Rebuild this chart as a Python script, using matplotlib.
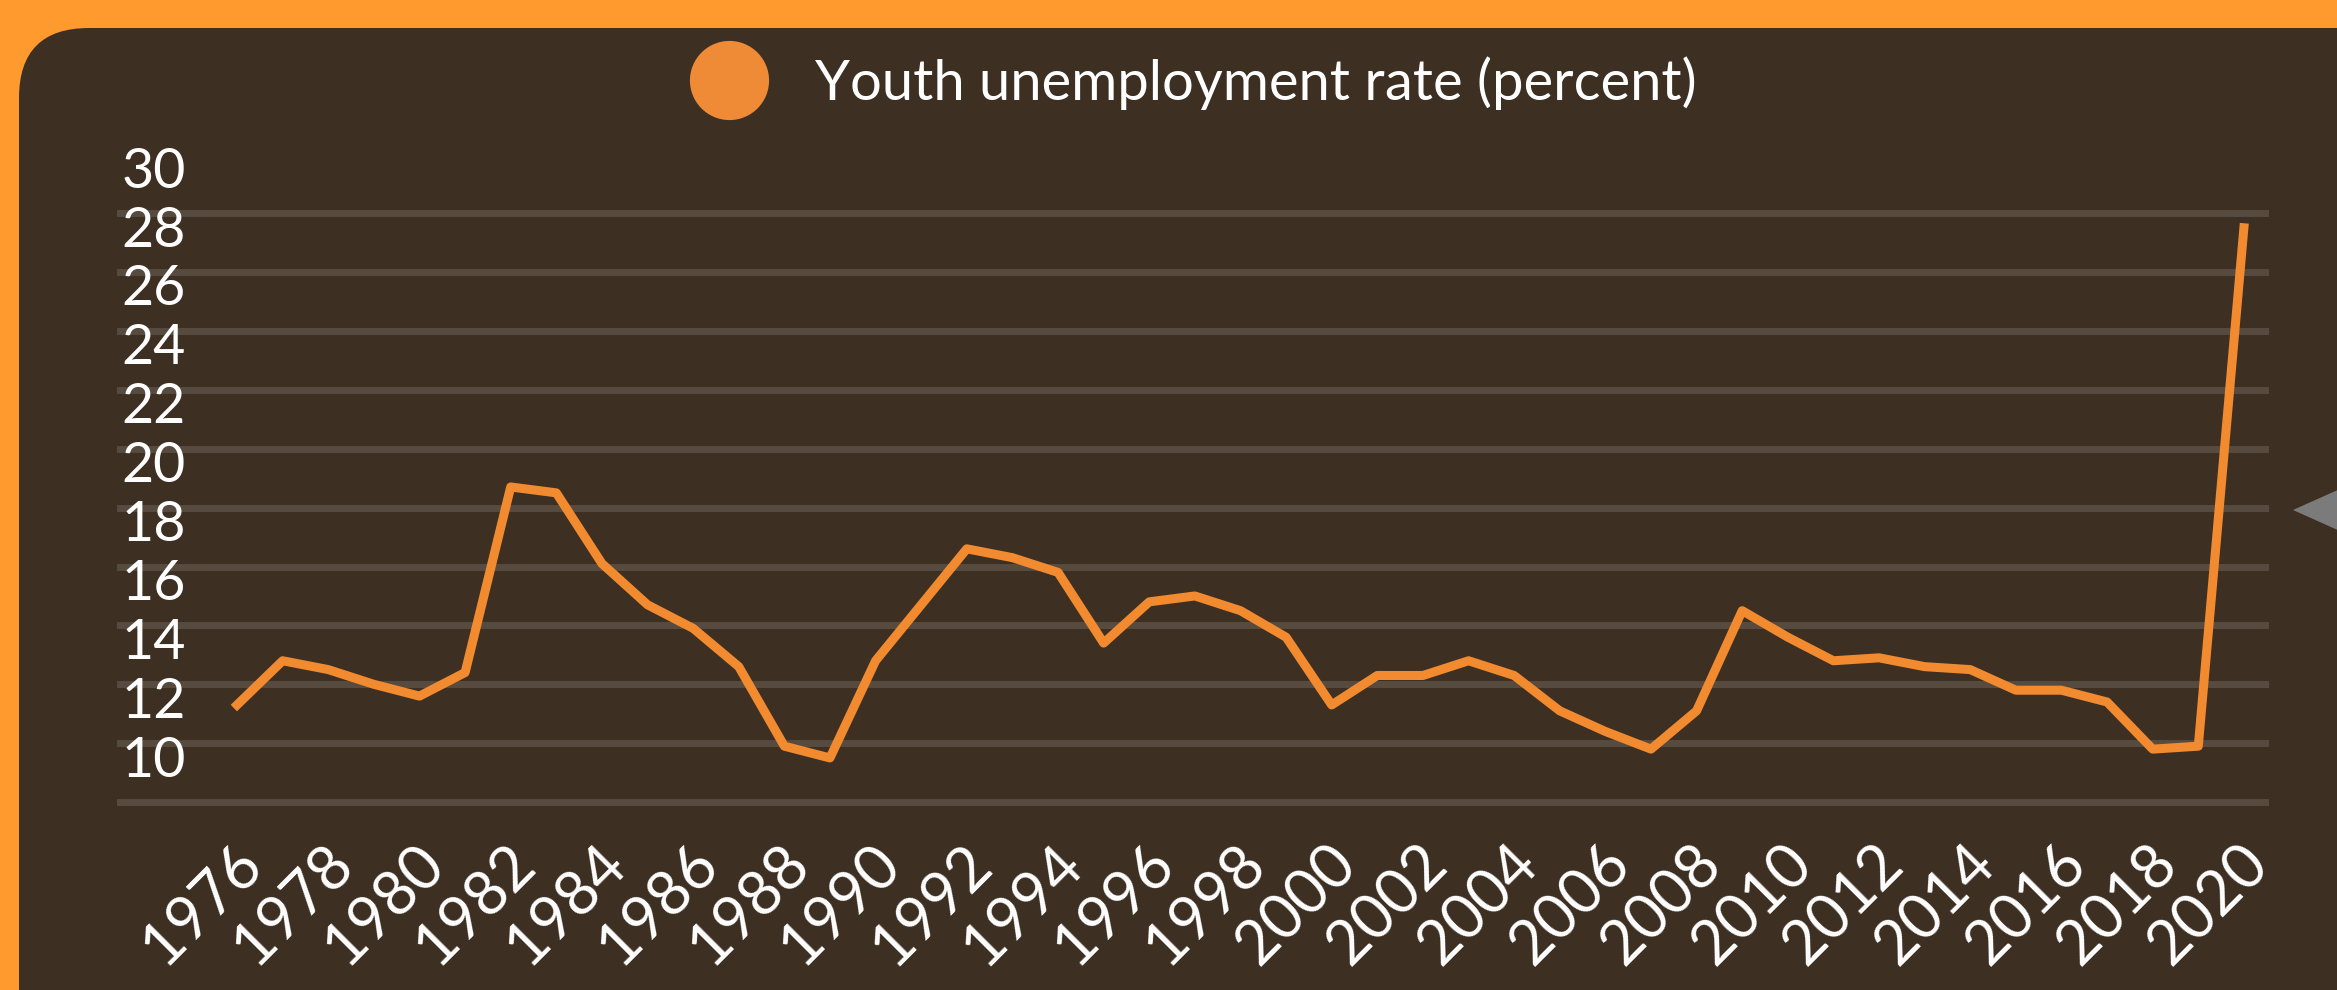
import matplotlib
matplotlib.use("Agg")
import matplotlib.pyplot as plt
import matplotlib.patches as mpatches
import matplotlib.transforms as mtransforms
from matplotlib.lines import Line2D

# Youth unemployment rate, yearly
years = list(range(1976, 2021))
rate = [11.3, 12.8, 12.5, 12.0, 11.6, 12.4, 18.7, 18.5, 16.1, 14.7,
        13.9, 12.6, 9.9, 9.5, 12.8, 14.7, 16.6, 16.3, 15.8, 13.4,
        14.8, 15.0, 14.5, 13.6, 11.3, 12.3, 12.3, 12.8, 12.3, 11.1,
        10.4, 9.8, 11.1, 14.5, 13.6, 12.8, 12.9, 12.6, 12.5, 11.8,
        11.8, 11.4, 9.8, 9.9, 27.5]
series_label = "Youth unemployment rate (percent)"
x_ticks = list(range(1976, 2021, 2))
y_ticks = list(range(10, 31, 2))
grid_values = list(range(8, 29, 2))

frame_color = "#FE9A2E"
panel_color = "#3D2F22"
line_color = "#F28A30"
grid_color = "#574B40"

plt.rcParams['font.family'] = ['Lato', 'DejaVu Sans']

fig = plt.figure(figsize=(23.37, 9.9), dpi=100)
fig.patch.set_facecolor(frame_color)

# dark rounded panel
panel = mpatches.FancyBboxPatch((0.19, -1.0), 25.0, 10.62,
                                boxstyle="round,pad=0,rounding_size=0.7",
                                transform=fig.dpi_scale_trans,
                                facecolor=panel_color, edgecolor="none", zorder=-2)
fig.add_artist(panel)

# small grey arrow on the right edge
arrow = mpatches.Polygon([(22.93, 4.80), (23.6, 5.10), (23.6, 4.50)],
                         closed=True, transform=fig.dpi_scale_trans,
                         facecolor="#7B7B7B", edgecolor="none", zorder=-1)
fig.add_artist(arrow)

ax = fig.add_axes([0.0501, 0.1838, 0.9208, 0.6754])
ax.set_facecolor("none")
ax.plot(years, rate, color=line_color, linewidth=6.5, zorder=3)

ax.set_xlim(1973.37, 2020.55)
ax.set_ylim(7.8, 30.5)

# grid lines 8..28 on major ticks, labels 10..30 on minor ticks
# (the labels sit a bit below their lines, as in the original)
ax.yaxis.remove_overlapping_locs = False
ax.set_yticks(grid_values)
ax.set_yticks(y_ticks, labels=[str(v) for v in y_ticks], minor=True)
ax.yaxis.grid(True, which="major", color=grid_color, linewidth=5)
ax.tick_params(axis="y", which="major", length=0, labelleft=False)
ax.tick_params(axis="y", which="minor", length=0, pad=-3, labelsize=40,
               labelcolor="white")
shift = mtransforms.ScaledTranslation(0, -0.13, fig.dpi_scale_trans)
for lab in ax.get_yticklabels(minor=True):
    lab.set_horizontalalignment("left")
    lab.set_transform(lab.get_transform() + shift)

ax.set_xticks(x_ticks)
ax.set_xticklabels([str(y) for y in x_ticks], rotation=45, ha="right",
                   va="center", rotation_mode="anchor")
ax.tick_params(axis="x", length=0, pad=34, labelsize=44, labelcolor="white")
xshift = mtransforms.ScaledTranslation(0.15, 0, fig.dpi_scale_trans)
for lab in ax.get_xticklabels():
    lab.set_transform(lab.get_transform() + xshift)

for s in ax.spines.values():
    s.set_visible(False)

handle = Line2D([], [], marker="o", linestyle="none", markersize=57,
                markerfacecolor="#EF8A37", markeredgecolor="none")
leg = ax.legend([handle], [series_label], loc="center",
                bbox_to_anchor=(1199 / 2337, 1 - 83 / 990),
                bbox_transform=fig.transFigure, frameon=False,
                fontsize=40.4, handlelength=1.0, handletextpad=1.04,
                borderpad=0, borderaxespad=0)
for t in leg.get_texts():
    t.set_color("white")

fig.savefig("out.png", dpi=100, facecolor=fig.get_facecolor())
